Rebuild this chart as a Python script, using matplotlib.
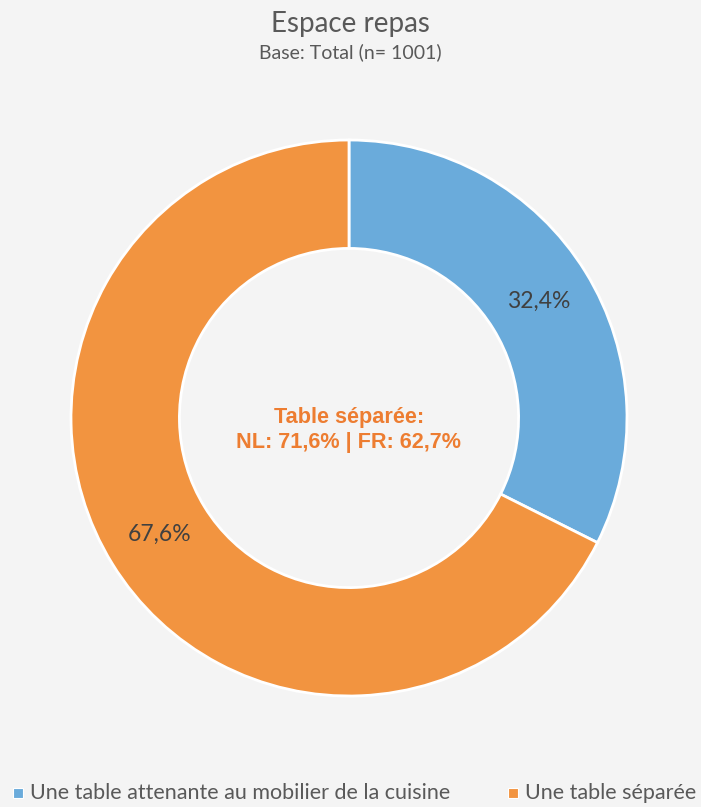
import matplotlib
matplotlib.use("Agg")
import matplotlib.pyplot as plt
from matplotlib.patches import Rectangle

categories = ["Une table attenante au mobilier de la cuisine", "Une table séparée"]
values = [32.4, 67.6]
colors = ["#6AABDB", "#F29440"]
title = "Espace repas"
subtitle = "Base: Total (n= 1001)"
center_text = "Table séparée:\nNL: 71,6% | FR: 62,7%"

W, H = 701, 807
bg = "#F4F4F4"
fig = plt.figure(figsize=(W / 100, H / 100), dpi=100, facecolor=bg)
ax = fig.add_axes([0, 0, 1, 1])
ax.set_facecolor(bg)

cx, cy, R = 349, H - 418, 278
wedges, texts, autotexts = ax.pie(
    values, colors=colors, startangle=90, counterclock=False,
    center=(cx, cy), radius=R,
    autopct=lambda p: f"{p:.1f}%".replace(".", ","), pctdistance=0.8,
    wedgeprops=dict(width=R * 0.39, edgecolor="white", linewidth=2),
    textprops=dict(fontsize=16.5, color="#404040", family="Lato"),
    frame=True,
)
ax.set_xlim(0, W)
ax.set_ylim(0, H)
ax.set_aspect("equal")
ax.axis("off")

fig.text(0.5, 1 - 24 / H, title, ha="center", va="center", fontsize=20,
         color="#595959", family="Lato")
fig.text(0.5, 1 - 52 / H, subtitle, ha="center", va="center", fontsize=14,
         color="#595959", family="Lato")
fig.text(cx / W, 1 - 430 / H, center_text, ha="center", va="center",
         fontsize=15.6, fontweight="bold", color="#ED7D31",
         family="Liberation Sans", linespacing=1.22)

# legend
leg_y = 1 - 793 / H
for x0, lab, col in [(13, categories[0], colors[0]), (508, categories[1], colors[1])]:
    fig.patches.append(Rectangle((x0 / W, leg_y - 5 / H), 10 / W, 10 / H,
                                 transform=fig.transFigure, facecolor=col,
                                 edgecolor="white", linewidth=0.8))
    fig.text((x0 + 17) / W, leg_y, lab, ha="left", va="center", fontsize=15.5,
             color="#595959", family="Lato")

fig.savefig("out.png", dpi=100, facecolor=bg)
